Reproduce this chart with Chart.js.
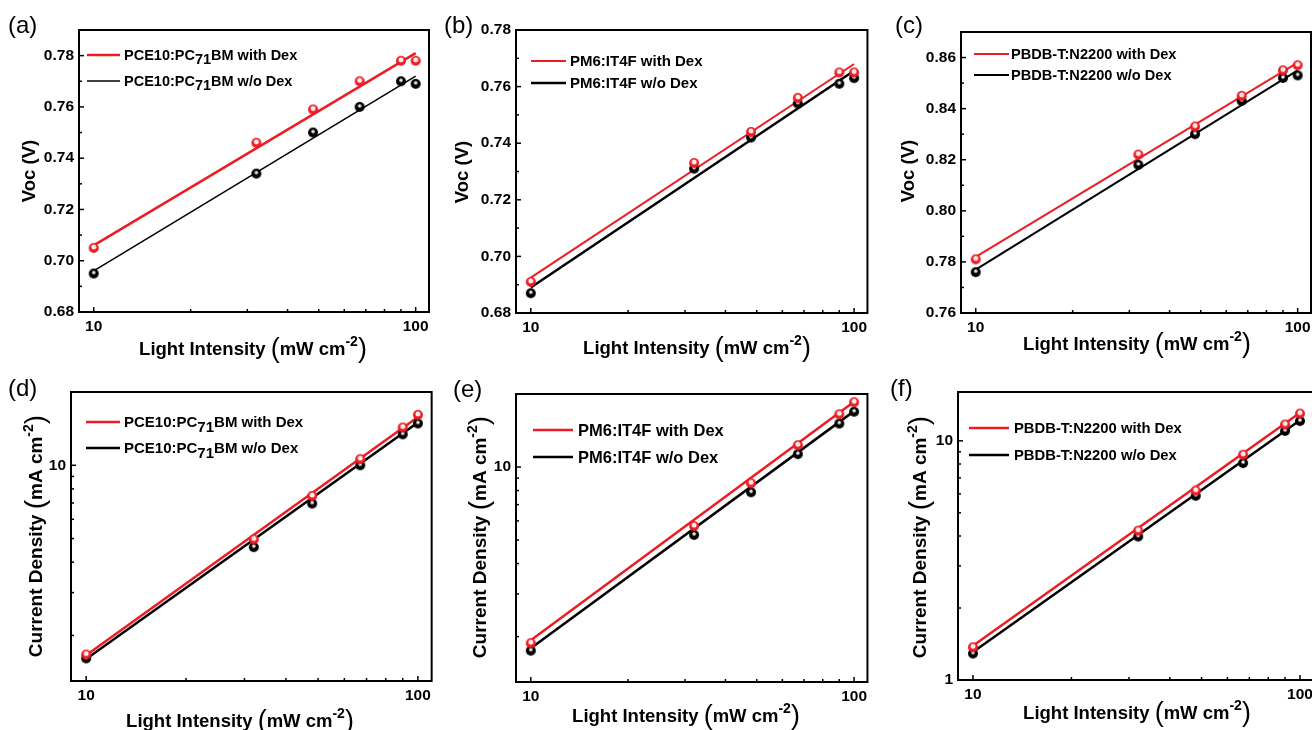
<!DOCTYPE html>
<html>
<head>
<meta charset="utf-8">
<script src="https://cdn.jsdelivr.net/npm/chart.js@4.4.0/dist/chart.umd.min.js"></script>
<style>
  html, body { margin: 0; padding: 0; background: #fff; overflow: hidden; width: 1312px; height: 730px; }
  canvas { position: absolute; }
</style>
</head>
<body>
<canvas id="pa" width="436" height="365" style="left:0;top:0"></canvas>
<canvas id="pb" width="436" height="365" style="left:436px;top:0"></canvas>
<canvas id="pc" width="446" height="365" style="left:872px;top:0"></canvas>
<canvas id="pd" width="436" height="365" style="left:0;top:365px"></canvas>
<canvas id="pe" width="436" height="365" style="left:436px;top:365px"></canvas>
<canvas id="pf" width="446" height="365" style="left:872px;top:365px"></canvas>
<script>
// light intensity (mW cm-2)
const intensity = [10, 32, 48, 67, 90, 100];
const fitX = [10, 100];
const xTicks = [10, 100];
const xMinor = [20, 30, 40, 50, 60, 70, 80, 90];

// Voc (V)
const vocA_with = [0.705, 0.746, 0.759, 0.770, 0.778, 0.778];
const vocA_wo   = [0.695, 0.734, 0.750, 0.760, 0.770, 0.769];
const fitA_with = [0.706, 0.781];
const fitA_wo   = [0.696, 0.772];

const vocB_with = [0.691, 0.733, 0.744, 0.756, 0.765, 0.765];
const vocB_wo   = [0.687, 0.731, 0.742, 0.754, 0.761, 0.763];
const fitB_with = [0.6925, 0.768];
const fitB_wo   = [0.689, 0.7656];

const vocC_with = [0.781, 0.822, 0.833, 0.845, 0.855, 0.857];
const vocC_wo   = [0.776, 0.818, 0.830, 0.843, 0.852, 0.853];
const fitC_with = [0.782, 0.858];
const fitC_wo   = [0.777, 0.855];

// current density (mA cm-2)
const jD_with = [1.67, 4.96, 7.48, 10.6, 14.3, 16.1];
const jD_wo   = [1.61, 4.61, 6.96, 10.0, 13.4, 14.85];
const fitD_with = [1.66, 15.8];
const fitD_wo   = [1.60, 15.0];

const jE_with = [1.88, 5.71, 8.57, 12.3, 16.5, 18.5];
const jE_wo   = [1.75, 5.25, 7.87, 11.3, 15.1, 16.9];
const fitE_with = [1.93, 18.6];
const fitE_wo   = [1.79, 17.0];

const jF_with = [1.37, 4.21, 6.19, 8.74, 11.7, 13.0];
const jF_wo   = [1.29, 3.98, 5.89, 8.07, 11.0, 12.1];
const fitF_with = [1.39, 13.1];
const fitF_wo   = [1.31, 12.2];

// y tick labels
const vocTicksAB = [0.68, 0.70, 0.72, 0.74, 0.76, 0.78];
const vocMinorAB = [0.69, 0.71, 0.73, 0.75, 0.77];
const vocTicksC = [0.76, 0.78, 0.80, 0.82, 0.84, 0.86];
const vocMinorC = [0.77, 0.79, 0.81, 0.83, 0.85];
const jTicksDE = [10];
const jTicksF = [1, 10];
const jMinor = [2, 3, 4, 5, 6, 7, 8, 9];

const legendA = ['PCE10:PC|71|BM with Dex', 'PCE10:PC|71|BM w/o Dex'];
const legendB = ['PM6:IT4F with Dex', 'PM6:IT4F w/o Dex'];
const legendC = ['PBDB-T:N2200 with Dex', 'PBDB-T:N2200 w/o Dex'];

const RED = '#ec1c24';
const FONT = '"Liberation Sans", Arial, sans-serif';
Chart.defaults.font.family = FONT;
Chart.defaults.color = '#000';

function ball(color, r, hl) {
  const s = Math.ceil(r * 2 + 2);
  const c = document.createElement('canvas');
  c.width = s; c.height = s;
  const g = c.getContext('2d');
  g.fillStyle = color;
  g.beginPath(); g.arc(s / 2, s / 2, r, 0, Math.PI * 2); g.fill();
  g.fillStyle = 'rgba(255,255,255,0.92)';
  g.beginPath(); g.arc(s / 2, s / 2 - 1, r * hl, 0, Math.PI * 2); g.fill();
  return c;
}
const redBall = ball(RED, 5, 0.5);
const blackBall = ball('#000', 5, 0.36);

function drawRich(ctx, segs, x, y, align) {
  let total = 0;
  const w = segs.map(s => { ctx.font = s.f; const v = ctx.measureText(s.t).width; total += v; return v; });
  let cx = align === 'center' ? x - total / 2 : x;
  ctx.textAlign = 'left';
  ctx.textBaseline = 'alphabetic';
  segs.forEach((s, i) => { ctx.font = s.f; ctx.fillText(s.t, cx, y + (s.dy || 0)); cx += w[i]; });
}

function legendSegs(label, size) {
  const f = 'bold ' + size + 'px ' + FONT;
  return label.split('|').map((t, i) => ({ t: t, f: f, dy: i % 2 ? size * 0.28 : 0 }));
}

function unitSegs(lead, unit, size) {
  const b = 'bold ' + size + 'px ' + FONT;
  const p = Math.round(size * 1.45) + 'px ' + FONT;
  const sup = 'bold ' + Math.round(size * 0.75) + 'px ' + FONT;
  return [
    { t: lead, f: b },
    { t: '(', f: p, dy: 2.5 },
    { t: unit, f: b },
    { t: '-2', f: sup, dy: -size * 0.45 },
    { t: ')', f: p, dy: 2.5 }
  ];
}

function makeDecor(p) {
  return {
    id: 'decor',
    afterDraw(chart) {
      const ctx = chart.ctx, a = chart.chartArea;
      const xs = chart.scales.x, ys = chart.scales.y;
      ctx.save();
      ctx.strokeStyle = '#000';
      ctx.lineWidth = 1.5;
      const seg = (x1, y1, x2, y2) => { ctx.beginPath(); ctx.moveTo(x1, y1); ctx.lineTo(x2, y2); ctx.stroke(); };
      xTicks.forEach(v => { const px = xs.getPixelForValue(v); seg(px, a.bottom, px, a.bottom - 5); });
      xMinor.forEach(v => { const px = xs.getPixelForValue(v); seg(px, a.bottom, px, a.bottom - 3); });
      p.yTicks.forEach(v => { const py = ys.getPixelForValue(v); seg(a.left, py, a.left + 5, py); });
      p.yMinor.forEach(v => { const py = ys.getPixelForValue(v); seg(a.left, py, a.left + 3, py); });
      ctx.lineWidth = 2;
      ctx.strokeRect(a.left, a.top, a.right - a.left, a.bottom - a.top);

      // legend
      const lg = p.legend;
      [[RED, p.wWith], ['#000', p.wWo]].forEach((st, i) => {
        const y = lg.rows[i];
        ctx.strokeStyle = st[0]; ctx.lineWidth = st[1];
        seg(lg.x0, y, lg.x1, y);
        ctx.fillStyle = '#000';
        drawRich(ctx, legendSegs(p.labels[i], lg.size), lg.tx, y + lg.size * 0.36, 'left');
      });

      // axis titles
      ctx.fillStyle = '#000';
      drawRich(ctx, unitSegs('Light Intensity ', 'mW cm', 18.5), p.xt[0], p.xt[1] + 6.5, 'center');
      ctx.save();
      ctx.translate(p.yt[0], p.yt[1]);
      ctx.rotate(-Math.PI / 2);
      if (p.yType === 'linear') {
        drawRich(ctx, [{ t: 'Voc (V)', f: 'bold 18.5px ' + FONT }], 0, 6.5, 'center');
      } else {
        drawRich(ctx, unitSegs('Current Density ', 'mA cm', 19), 0, 6.8, 'center');
      }
      ctx.restore();

      // panel label
      ctx.font = '24px ' + FONT;
      ctx.textAlign = 'left';
      ctx.textBaseline = 'middle';
      ctx.fillText(p.tag, p.tagPos[0], p.tagPos[1]);
      ctx.restore();
    }
  };
}

const panels = [
  { id: 'pa', tag: '(a)', yType: 'linear', yMin: 0.68, yMax: 0.79, yTicks: vocTicksAB, yMinor: vocMinorAB,
    withY: vocA_with, woY: vocA_wo, fitWith: fitA_with, fitWo: fitA_wo, labels: legendA, wWith: 2.5, wWo: 1.5,
    area: [79, 30, 429, 312], legend: { x0: 87, x1: 120, tx: 124, rows: [55, 81], size: 14.5 },
    xt: [253, 348], yt: [28, 171], tagPos: [8, 26] },
  { id: 'pb', tag: '(b)', yType: 'linear', yMin: 0.68, yMax: 0.78, yTicks: vocTicksAB, yMinor: vocMinorAB,
    withY: vocB_with, woY: vocB_wo, fitWith: fitB_with, fitWo: fitB_wo, labels: legendB, wWith: 2, wWo: 2.5,
    area: [80, 30, 444, 313], legend: { x0: 95, x1: 130, tx: 134, rows: [61, 83], size: 15 },
    xt: [261, 347], yt: [25, 172], tagPos: [8, 26] },
  { id: 'pc', tag: '(c)', yType: 'linear', yMin: 0.76, yMax: 0.87, yTicks: vocTicksC, yMinor: vocMinorC,
    withY: vocC_with, woY: vocC_wo, fitWith: fitC_with, fitWo: fitC_wo, labels: legendC, wWith: 2, wWo: 2,
    area: [89, 32, 439, 313], legend: { x0: 102, x1: 137, tx: 139, rows: [54, 75], size: 14.6 },
    xt: [265, 343], yt: [35, 171], tagPos: [23, 26] },
  { id: 'pd', tag: '(d)', yType: 'logarithmic', yMin: 1.3, yMax: 20, yTicks: jTicksDE, yMinor: jMinor,
    withY: jD_with, woY: jD_wo, fitWith: fitD_with, fitWo: fitD_wo, labels: legendA, wWith: 2.5, wWo: 2.5,
    area: [71, 27, 432, 316], legend: { x0: 86, x1: 120, tx: 124, rows: [57, 83], size: 15 },
    xt: [240, 355], yt: [35, 171], tagPos: [8, 24] },
  { id: 'pe', tag: '(e)', yType: 'logarithmic', yMin: 1.3, yMax: 20, yTicks: jTicksDE, yMinor: jMinor,
    withY: jE_with, woY: jE_wo, fitWith: fitE_with, fitWo: fitE_wo, labels: legendB, wWith: 2.5, wWo: 2.5,
    area: [80, 29, 443, 317], legend: { x0: 97, x1: 137, tx: 142, rows: [65, 92], size: 16.5 },
    xt: [250, 350], yt: [43, 172], tagPos: [17, 25] },
  { id: 'pf', tag: '(f)', yType: 'logarithmic', yMin: 1, yMax: 16, yTicks: jTicksF, yMinor: jMinor,
    withY: jF_with, woY: jF_wo, fitWith: fitF_with, fitWo: fitF_wo, labels: legendC, wWith: 2.5, wWo: 2.5,
    area: [86, 27, 444, 315], legend: { x0: 97, x1: 137, tx: 142, rows: [63, 90], size: 14.8 },
    xt: [265, 347], yt: [47, 172], tagPos: [18, 24] }
];

const Y_W = 60, X_H = 30;
const tickFont = { size: 15.5, weight: 'bold' };

panels.forEach(p => {
  const cv = document.getElementById(p.id);
  const W = cv.width, H = cv.height;
  const pts = (xs, ys) => xs.map((x, i) => ({ x: x, y: ys[i] }));
  new Chart(cv, {
    type: 'scatter',
    data: {
      datasets: [
        { data: pts(intensity, p.withY), pointStyle: redBall, pointRadius: 5, showLine: false },
        { data: pts(intensity, p.woY), pointStyle: blackBall, pointRadius: 5, showLine: false },
        { data: pts(fitX, p.fitWith), showLine: true, borderColor: RED, borderWidth: p.wWith, pointRadius: 0, tension: 0 },
        { data: pts(fitX, p.fitWo), showLine: true, borderColor: '#000', borderWidth: p.wWo, pointRadius: 0, tension: 0 }
      ]
    },
    options: {
      responsive: false,
      animation: false,
      events: [],
      layout: {
        autoPadding: false,
        padding: { left: p.area[0] - Y_W, top: p.area[1], right: W - p.area[2], bottom: H - p.area[3] - X_H }
      },
      plugins: { legend: { display: false }, tooltip: { enabled: false } },
      scales: {
        x: {
          type: 'logarithmic', min: 9, max: 110,
          afterBuildTicks: s => { s.ticks = xTicks.map(v => ({ value: v })); },
          afterFit: s => { s.height = X_H; },
          ticks: { font: tickFont, color: '#000', padding: 5, maxRotation: 0, autoSkip: false, callback: v => String(v) },
          grid: { display: false, drawTicks: false },
          border: { display: false }
        },
        y: {
          type: p.yType, min: p.yMin, max: p.yMax,
          afterBuildTicks: s => { s.ticks = p.yTicks.map(v => ({ value: v })); },
          afterFit: s => { s.width = Y_W; },
          ticks: { font: tickFont, color: '#000', padding: 5, autoSkip: false,
                   callback: v => p.yType === 'linear' ? v.toFixed(2) : String(v) },
          grid: { display: false, drawTicks: false },
          border: { display: false }
        }
      }
    },
    plugins: [makeDecor(p)]
  });
});
</script>
</body>
</html>
